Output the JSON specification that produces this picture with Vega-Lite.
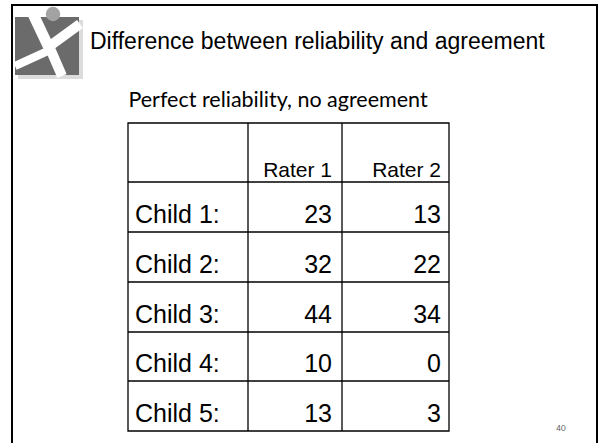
{
  "$schema": "https://vega.github.io/schema/vega-lite/v6.json",
  "width": 600,
  "height": 443,
  "autosize": {"type": "none"},
  "padding": 0,
  "background": "white",
  "config": {"view": {"stroke": null}},
  "datasets": {
    "table": [
      {"child": "Child 1:", "rater": "Rater 1", "score": 23},
      {"child": "Child 1:", "rater": "Rater 2", "score": 13},
      {"child": "Child 2:", "rater": "Rater 1", "score": 32},
      {"child": "Child 2:", "rater": "Rater 2", "score": 22},
      {"child": "Child 3:", "rater": "Rater 1", "score": 44},
      {"child": "Child 3:", "rater": "Rater 2", "score": 34},
      {"child": "Child 4:", "rater": "Rater 1", "score": 10},
      {"child": "Child 4:", "rater": "Rater 2", "score": 0},
      {"child": "Child 5:", "rater": "Rater 1", "score": 13},
      {"child": "Child 5:", "rater": "Rater 2", "score": 3}
    ],
    "one": [{"k": 1}]
  },
  "resolve": {"scale": {"x": "independent", "y": "independent"}},
  "layer": [
    {
      "data": {"name": "one"},
      "mark": {"type": "rect", "fill": "#dcdcdc"},
      "encoding": {
        "x": {"datum": 18, "type": "quantitative", "scale": {"domain": [0, 600], "nice": false, "zero": false}, "axis": null},
        "x2": {"datum": 83},
        "y": {"datum": 20, "type": "quantitative", "scale": {"domain": [0, 443], "nice": false, "zero": false, "reverse": true}, "axis": null},
        "y2": {"datum": 79}
      }
    },
    {
      "data": {"name": "one"},
      "mark": {"type": "rect", "fill": "#6b6b6b"},
      "encoding": {
        "x": {"datum": 15, "type": "quantitative", "scale": {"domain": [0, 600], "nice": false, "zero": false}, "axis": null},
        "x2": {"datum": 79},
        "y": {"datum": 17, "type": "quantitative", "scale": {"domain": [0, 443], "nice": false, "zero": false, "reverse": true}, "axis": null},
        "y2": {"datum": 75}
      }
    },
    {
      "data": {"name": "one"},
      "mark": {"type": "rule", "stroke": "white", "strokeWidth": 11, "strokeCap": "butt"},
      "encoding": {
        "x": {"datum": 33, "type": "quantitative", "scale": {"domain": [0, 600], "nice": false, "zero": false}, "axis": null},
        "x2": {"datum": 50},
        "y": {"datum": 14, "type": "quantitative", "scale": {"domain": [0, 443], "nice": false, "zero": false, "reverse": true}, "axis": null},
        "y2": {"datum": 50}
      }
    },
    {
      "data": {"name": "one"},
      "mark": {"type": "rule", "stroke": "white", "strokeWidth": 10, "strokeCap": "butt"},
      "encoding": {
        "x": {"datum": 47, "type": "quantitative", "scale": {"domain": [0, 600], "nice": false, "zero": false}, "axis": null},
        "x2": {"datum": 80},
        "y": {"datum": 48, "type": "quantitative", "scale": {"domain": [0, 443], "nice": false, "zero": false, "reverse": true}, "axis": null},
        "y2": {"datum": 24}
      }
    },
    {
      "data": {"name": "one"},
      "mark": {"type": "rule", "stroke": "white", "strokeWidth": 10, "strokeCap": "butt"},
      "encoding": {
        "x": {"datum": 49, "type": "quantitative", "scale": {"domain": [0, 600], "nice": false, "zero": false}, "axis": null},
        "x2": {"datum": 62},
        "y": {"datum": 46, "type": "quantitative", "scale": {"domain": [0, 443], "nice": false, "zero": false, "reverse": true}, "axis": null},
        "y2": {"datum": 76}
      }
    },
    {
      "data": {"name": "one"},
      "mark": {"type": "rule", "stroke": "white", "strokeWidth": 8, "strokeCap": "butt"},
      "encoding": {
        "x": {"datum": 50, "type": "quantitative", "scale": {"domain": [0, 600], "nice": false, "zero": false}, "axis": null},
        "x2": {"datum": 15},
        "y": {"datum": 50, "type": "quantitative", "scale": {"domain": [0, 443], "nice": false, "zero": false, "reverse": true}, "axis": null},
        "y2": {"datum": 66}
      }
    },
    {
      "data": {"name": "one"},
      "mark": {"type": "point", "filled": true, "fill": "#a3a3a3", "size": 210, "opacity": 1},
      "encoding": {
        "x": {"datum": 53, "type": "quantitative", "scale": {"domain": [0, 600], "nice": false, "zero": false}, "axis": null},
        "y": {"datum": 14, "type": "quantitative", "scale": {"domain": [0, 443], "nice": false, "zero": false, "reverse": true}, "axis": null}
      }
    },
    {
      "data": {"name": "one"},
      "mark": {"type": "rect", "fill": null, "stroke": "black", "strokeWidth": 2},
      "encoding": {
        "x": {"datum": 12, "type": "quantitative", "scale": {"domain": [0, 600], "nice": false, "zero": false}, "axis": null},
        "x2": {"datum": 597},
        "y": {"datum": 5, "type": "quantitative", "scale": {"domain": [0, 443], "nice": false, "zero": false, "reverse": true}, "axis": null},
        "y2": {"datum": 460}
      }
    },
    {
      "data": {"name": "one"},
      "mark": {"type": "text", "text": "Difference between reliability and agreement", "font": "Liberation Sans", "fontSize": 23, "align": "left", "baseline": "alphabetic", "color": "black"},
      "encoding": {
        "x": {"datum": 90, "type": "quantitative", "scale": {"domain": [0, 600], "nice": false, "zero": false}, "axis": null},
        "y": {"datum": 49, "type": "quantitative", "scale": {"domain": [0, 443], "nice": false, "zero": false, "reverse": true}, "axis": null}
      }
    },
    {
      "data": {"name": "one"},
      "mark": {"type": "text", "text": "Perfect reliability, no agreement", "font": "Lato", "fontSize": 21.5, "align": "center", "baseline": "alphabetic", "color": "black"},
      "encoding": {
        "x": {"datum": 278, "type": "quantitative", "scale": {"domain": [0, 600], "nice": false, "zero": false}, "axis": null},
        "y": {"datum": 107, "type": "quantitative", "scale": {"domain": [0, 443], "nice": false, "zero": false, "reverse": true}, "axis": null}
      }
    },
    {
      "data": {"name": "one"},
      "mark": {"type": "text", "text": "40", "font": "Lato", "fontSize": 8, "align": "center", "baseline": "alphabetic", "color": "#595959"},
      "encoding": {
        "x": {"datum": 561, "type": "quantitative", "scale": {"domain": [0, 600], "nice": false, "zero": false}, "axis": null},
        "y": {"datum": 431, "type": "quantitative", "scale": {"domain": [0, 443], "nice": false, "zero": false, "reverse": true}, "axis": null}
      }
    },
    {
      "data": {"name": "one"},
      "mark": {"type": "rect", "fill": null, "stroke": "black", "strokeWidth": 1.3},
      "encoding": {
        "x": {"datum": 128, "type": "quantitative", "scale": {"domain": [0, 600], "nice": false, "zero": false}, "axis": null},
        "x2": {"datum": 449},
        "y": {"datum": 123, "type": "quantitative", "scale": {"domain": [0, 443], "nice": false, "zero": false, "reverse": true}, "axis": null},
        "y2": {"datum": 431}
      }
    },
    {
      "data": {"name": "one"},
      "mark": {"type": "rule", "stroke": "black", "strokeWidth": 1.3},
      "encoding": {
        "x": {"datum": 248, "type": "quantitative", "scale": {"domain": [0, 600], "nice": false, "zero": false}, "axis": null},
        "y": {"datum": 123, "type": "quantitative", "scale": {"domain": [0, 443], "nice": false, "zero": false, "reverse": true}, "axis": null},
        "y2": {"datum": 431}
      }
    },
    {
      "data": {"name": "one"},
      "mark": {"type": "rule", "stroke": "black", "strokeWidth": 1.3},
      "encoding": {
        "x": {"datum": 342, "type": "quantitative", "scale": {"domain": [0, 600], "nice": false, "zero": false}, "axis": null},
        "y": {"datum": 123, "type": "quantitative", "scale": {"domain": [0, 443], "nice": false, "zero": false, "reverse": true}, "axis": null},
        "y2": {"datum": 431}
      }
    },
    {
      "data": {"name": "one"},
      "mark": {"type": "rule", "stroke": "black", "strokeWidth": 1.3},
      "encoding": {
        "x": {"datum": 128, "type": "quantitative", "scale": {"domain": [0, 600], "nice": false, "zero": false}, "axis": null},
        "x2": {"datum": 449},
        "y": {"datum": 182, "type": "quantitative", "scale": {"domain": [0, 443], "nice": false, "zero": false, "reverse": true}, "axis": null}
      }
    },
    {
      "data": {"name": "one"},
      "mark": {"type": "rule", "stroke": "black", "strokeWidth": 1.3},
      "encoding": {
        "x": {"datum": 128, "type": "quantitative", "scale": {"domain": [0, 600], "nice": false, "zero": false}, "axis": null},
        "x2": {"datum": 449},
        "y": {"datum": 232, "type": "quantitative", "scale": {"domain": [0, 443], "nice": false, "zero": false, "reverse": true}, "axis": null}
      }
    },
    {
      "data": {"name": "one"},
      "mark": {"type": "rule", "stroke": "black", "strokeWidth": 1.3},
      "encoding": {
        "x": {"datum": 128, "type": "quantitative", "scale": {"domain": [0, 600], "nice": false, "zero": false}, "axis": null},
        "x2": {"datum": 449},
        "y": {"datum": 282, "type": "quantitative", "scale": {"domain": [0, 443], "nice": false, "zero": false, "reverse": true}, "axis": null}
      }
    },
    {
      "data": {"name": "one"},
      "mark": {"type": "rule", "stroke": "black", "strokeWidth": 1.3},
      "encoding": {
        "x": {"datum": 128, "type": "quantitative", "scale": {"domain": [0, 600], "nice": false, "zero": false}, "axis": null},
        "x2": {"datum": 449},
        "y": {"datum": 332, "type": "quantitative", "scale": {"domain": [0, 443], "nice": false, "zero": false, "reverse": true}, "axis": null}
      }
    },
    {
      "data": {"name": "one"},
      "mark": {"type": "rule", "stroke": "black", "strokeWidth": 1.3},
      "encoding": {
        "x": {"datum": 128, "type": "quantitative", "scale": {"domain": [0, 600], "nice": false, "zero": false}, "axis": null},
        "x2": {"datum": 449},
        "y": {"datum": 381, "type": "quantitative", "scale": {"domain": [0, 443], "nice": false, "zero": false, "reverse": true}, "axis": null}
      }
    },
    {
      "data": {"name": "table"},
      "transform": [{"filter": "datum.child === 'Child 1:'"}],
      "mark": {"type": "text", "font": "Liberation Sans", "fontSize": 21, "align": "right", "baseline": "alphabetic", "color": "black"},
      "encoding": {
        "x": {"field": "rater", "type": "nominal", "scale": {"type": "point", "domain": ["Rater 1", "Rater 2"], "range": [332, 441], "padding": 0}, "axis": null},
        "y": {"datum": 177, "type": "quantitative", "scale": {"domain": [0, 443], "nice": false, "zero": false, "reverse": true}, "axis": null},
        "text": {"field": "rater"}
      }
    },
    {
      "data": {"name": "table"},
      "transform": [{"filter": "datum.rater === 'Rater 1'"}],
      "mark": {"type": "text", "font": "Liberation Sans", "fontSize": 25, "align": "left", "baseline": "alphabetic", "color": "black"},
      "encoding": {
        "x": {"datum": 135, "type": "quantitative", "scale": {"domain": [0, 600], "nice": false, "zero": false}, "axis": null},
        "y": {"field": "child", "type": "nominal", "scale": {"type": "point", "domain": ["Child 1:", "Child 2:", "Child 3:", "Child 4:", "Child 5:"], "range": [223, 422], "padding": 0}, "axis": null},
        "text": {"field": "child"}
      }
    },
    {
      "data": {"name": "table"},
      "mark": {"type": "text", "font": "Liberation Sans", "fontSize": 25, "align": "right", "baseline": "alphabetic", "color": "black"},
      "encoding": {
        "x": {"field": "rater", "type": "nominal", "scale": {"type": "point", "domain": ["Rater 1", "Rater 2"], "range": [332, 441], "padding": 0}, "axis": null},
        "y": {"field": "child", "type": "nominal", "scale": {"type": "point", "domain": ["Child 1:", "Child 2:", "Child 3:", "Child 4:", "Child 5:"], "range": [223, 422], "padding": 0}, "axis": null},
        "text": {"field": "score", "type": "quantitative"}
      }
    }
  ]
}
